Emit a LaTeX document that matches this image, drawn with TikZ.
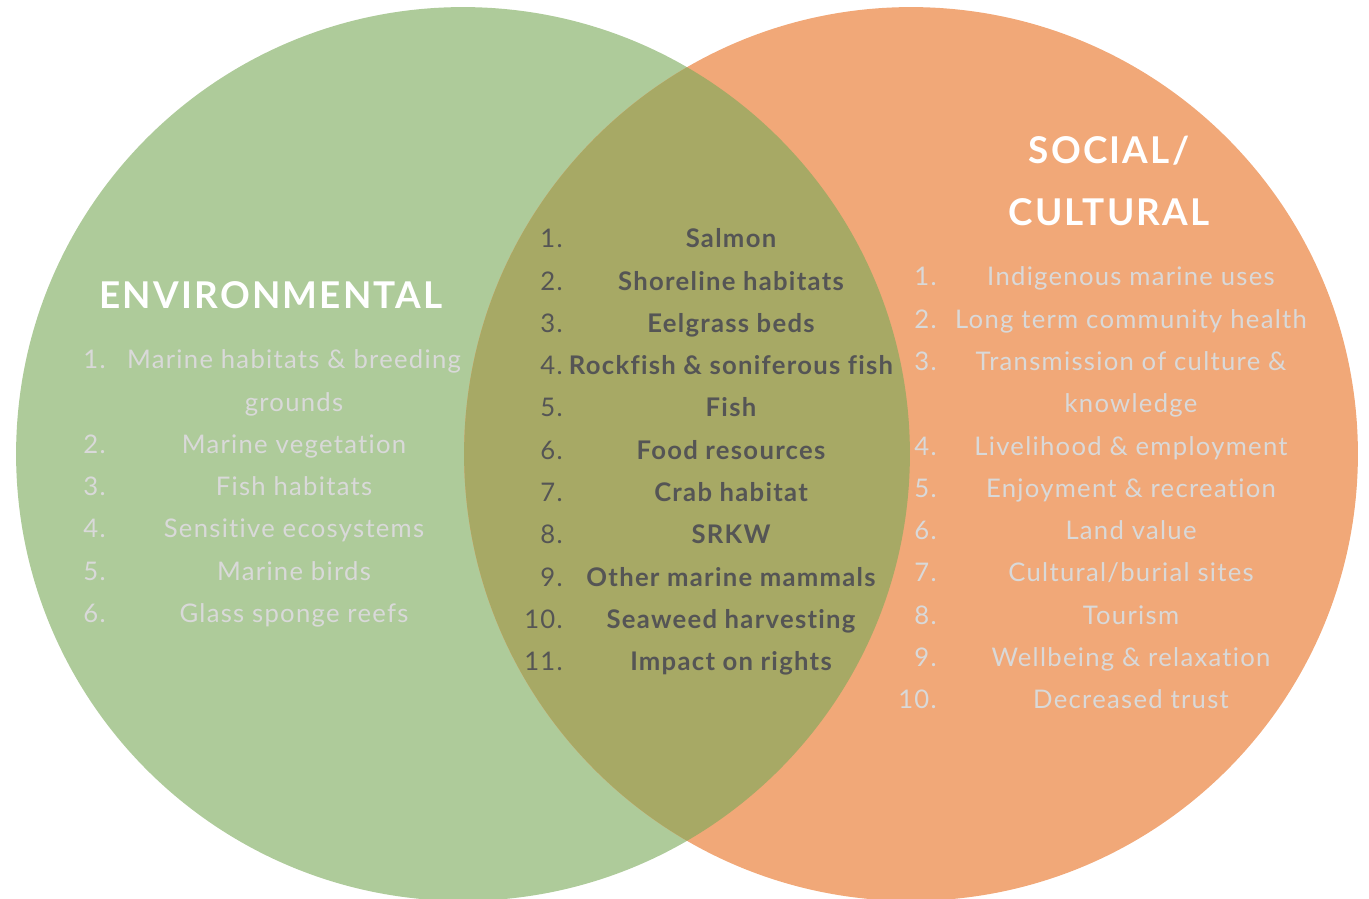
\documentclass[tikz,border=0pt]{standalone}
\usepackage{fontspec}
\setmainfont{Lato}
\newfontfamily\headfont{Lato}[LetterSpace=6]
\newfontfamily\listfont{Lato}[LetterSpace=5, Ligatures=NoCommon]
\usetikzlibrary{positioning}

\definecolor{envgreen}{RGB}{174,203,154}
\definecolor{socorange}{RGB}{241,168,120}
\definecolor{bothgreen}{RGB}{167,169,101}
\definecolor{palegray}{RGB}{217,217,217}
\definecolor{darkgray}{RGB}{85,85,85}

\tikzset{
  heading/.style={text=white, inner sep=0pt, align=center,
    font=\headfont\bfseries\fontsize{21}{35}\selectfont},
  sidetext/.style={text=palegray, inner sep=0pt, anchor=base,
    font=\listfont\fontsize{14.6}{24}\selectfont},
  sidenum/.style={sidetext, anchor=base east},
  midtext/.style={text=darkgray, inner sep=0pt, anchor=base,
    font=\listfont\bfseries\fontsize{14.6}{24}\selectfont},
  midnum/.style={midtext, font=\listfont\fontsize{14.6}{24}\selectfont, anchor=base east}
}

\begin{document}
\begin{tikzpicture}[x=0.02cm, y=-0.02cm]

    \useasboundingbox (0,0) rectangle (1369,899);

    % the two circles and their overlap
    \fill [envgreen] (463,454) circle (8.94cm);
    \fill [socorange] (911,454) circle (8.94cm);
    \begin{scope}
      \clip (463,454) circle (8.94cm);
      \fill [bothgreen] (911,454) circle (8.94cm);
    \end{scope}

    % headings
    \node [heading] (envhead) at (271,295) {ENVIRONMENTAL};
    \node [heading] (sochead) at (1109,181) {SOCIAL/\\CULTURAL};

    % environmental
    \node [sidenum] (envn1) at (106,368) {1.};
    \node [sidetext] (env1) at (294,368) {Marine habitats \& breeding};
    \node [sidetext] (env1b) at (294,411) {grounds};
    \node [sidenum] (envn2) at (106,453) {2.};
    \node [sidetext] (env2) at (294,453) {Marine vegetation};
    \node [sidenum] (envn3) at (106,495) {3.};
    \node [sidetext] (env3) at (294,495) {Fish habitats};
    \node [sidenum] (envn4) at (106,537) {4.};
    \node [sidetext] (env4) at (294,537) {Sensitive ecosystems};
    \node [sidenum] (envn5) at (106,580) {5.};
    \node [sidetext] (env5) at (294,580) {Marine birds};
    \node [sidenum] (envn6) at (106,622) {6.};
    \node [sidetext] (env6) at (294,622) {Glass sponge reefs};

    % both
    \node [midnum] (bothn1) at (563,247) {1.};
    \node [midtext] (both1) at (731,247) {Salmon};
    \node [midnum] (bothn2) at (563,290) {2.};
    \node [midtext] (both2) at (731,290) {Shoreline habitats};
    \node [midnum] (bothn3) at (563,332) {3.};
    \node [midtext] (both3) at (731,332) {Eelgrass beds};
    \node [midnum] (bothn4) at (563,374) {4.};
    \node [midtext] (both4) at (731,374) {Rockfish \& soniferous fish};
    \node [midnum] (bothn5) at (563,416) {5.};
    \node [midtext] (both5) at (731,416) {Fish};
    \node [midnum] (bothn6) at (563,459) {6.};
    \node [midtext] (both6) at (731,459) {Food resources};
    \node [midnum] (bothn7) at (563,501) {7.};
    \node [midtext] (both7) at (731,501) {Crab habitat};
    \node [midnum] (bothn8) at (563,543) {8.};
    \node [midtext] (both8) at (731,543) {SRKW};
    \node [midnum] (bothn9) at (563,586) {9.};
    \node [midtext] (both9) at (731,586) {Other marine mammals};
    \node [midnum] (bothn10) at (563,628) {10.};
    \node [midtext] (both10) at (731,628) {Seaweed harvesting};
    \node [midnum] (bothn11) at (563,670) {11.};
    \node [midtext] (both11) at (731,670) {Impact on rights};

    % social / cultural
    \node [sidenum] (socn1) at (937,285) {1.};
    \node [sidetext] (soc1) at (1131,285) {Indigenous marine uses};
    \node [sidenum] (socn2) at (937,328) {2.};
    \node [sidetext] (soc2) at (1131,328) {Long term community health};
    \node [sidenum] (socn3) at (937,370) {3.};
    \node [sidetext] (soc3) at (1131,370) {Transmission of culture \&};
    \node [sidetext] (soc3b) at (1131,412) {knowledge};
    \node [sidenum] (socn4) at (937,455) {4.};
    \node [sidetext] (soc4) at (1131,455) {Livelihood \& employment};
    \node [sidenum] (socn5) at (937,497) {5.};
    \node [sidetext] (soc5) at (1131,497) {Enjoyment \& recreation};
    \node [sidenum] (socn6) at (937,539) {6.};
    \node [sidetext] (soc6) at (1131,539) {Land value};
    \node [sidenum] (socn7) at (937,581) {7.};
    \node [sidetext] (soc7) at (1131,581) {Cultural/burial sites};
    \node [sidenum] (socn8) at (937,624) {8.};
    \node [sidetext] (soc8) at (1131,624) {Tourism};
    \node [sidenum] (socn9) at (937,666) {9.};
    \node [sidetext] (soc9) at (1131,666) {Wellbeing \& relaxation};
    \node [sidenum] (socn10) at (937,708) {10.};
    \node [sidetext] (soc10) at (1131,708) {Decreased trust};

\end{tikzpicture}
\end{document}
